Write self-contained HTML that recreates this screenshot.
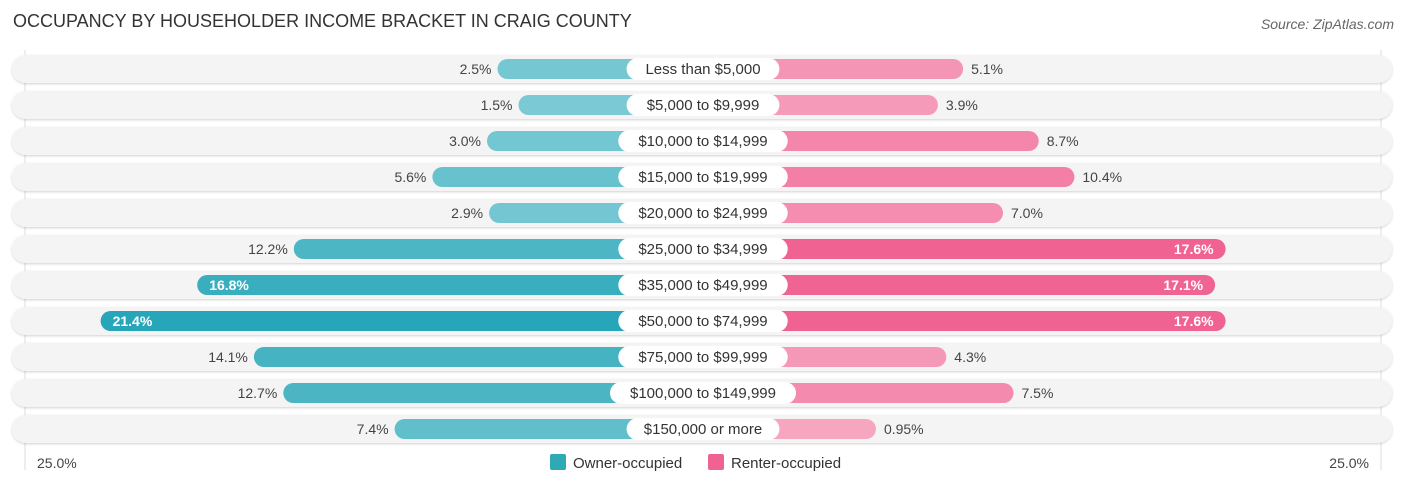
<!DOCTYPE html>
<html><head><meta charset="utf-8"><style>
body{margin:0;background:#fff;font-family:"Liberation Sans",sans-serif;}
#c{position:relative;width:1406px;height:487px;overflow:hidden;}
.t{position:absolute;left:13px;top:11px;font-size:18px;color:#333;}
.s{position:absolute;right:12px;top:16px;font-size:14px;color:#666;font-style:italic;}
</style></head><body>
<div id="c">
<div class="t">OCCUPANCY BY HOUSEHOLDER INCOME BRACKET IN CRAIG COUNTY</div>
<div class="s">Source: ZipAtlas.com</div>
<svg id="sv" width="1406" height="487" style="position:absolute;left:0;top:0"></svg>
</div>
<script>
const categories=["Less than $5,000","$5,000 to $9,999","$10,000 to $14,999","$15,000 to $19,999","$20,000 to $24,999","$25,000 to $34,999","$35,000 to $49,999","$50,000 to $74,999","$75,000 to $99,999","$100,000 to $149,999","$150,000 or more"];
const ownerValues=[2.5,1.5,3.0,5.6,2.9,12.2,16.8,21.4,14.1,12.7,7.4];
const renterValues=[5.1,3.9,8.7,10.4,7.0,17.6,17.1,17.6,4.3,7.5,0.95];
const ownerLabels=["2.5%","1.5%","3.0%","5.6%","2.9%","12.2%","16.8%","21.4%","14.1%","12.7%","7.4%"];
const renterLabels=["5.1%","3.9%","8.7%","10.4%","7.0%","17.6%","17.1%","17.6%","4.3%","7.5%","0.95%"];
const axisMax=25;
const NS="http://www.w3.org/2000/svg";
const sv=document.getElementById('sv');
const cx=703,off=153,pxPer=21.0,rowTop=69,rowStep=36;
function xs(v){return off+v*pxPer;}
function mix(a,b,t){return 'rgb('+a.map((x,i)=>Math.round(x+(b[i]-x)*t)).join(',')+')';}
function mk(tag,attrs,parent){const e=document.createElementNS(NS,tag);for(const k in attrs)e.setAttribute(k,attrs[k]);(parent||sv).appendChild(e);return e;}
const defs=mk('defs',{});
const f=mk('filter',{id:'sh',x:'-5%',y:'-30%',width:'110%',height:'160%'},defs);
mk('feDropShadow',{dx:0,dy:1,stdDeviation:1.2,'flood-color':'#000','flood-opacity':0.18},f);
mk('line',{x1:25,x2:25,y1:50,y2:470,stroke:'#ddd'});
mk('line',{x1:1381,x2:1381,y1:50,y2:470,stroke:'#ddd'});
categories.forEach((cat,i)=>{
  const y=rowTop+i*rowStep;
  const g=mk('g',{});
  
  
  const bg=mk('rect',{x:12,y:y-14,width:1380,height:28,rx:14,fill:'#f4f4f4',filter:'url(#sh)'},g);
  
  
  const ov=ownerValues[i],rv=renterValues[i];
  const ow=xs(ov),rw=xs(rv);
  const ob=mk('rect',{x:cx-ow,y:y-10,width:ow,height:20,rx:10,fill:mix([128,204,214],[38,166,184],Math.min(1,ov/21.4))},g);
  
  
  const rb=mk('rect',{x:cx,y:y-10,width:rw,height:20,rx:10,fill:mix([247,170,195],[240,98,146],Math.min(1,rv/17.6))},g);
  
  
  const oin=ov>15, rin=rv>15;
  const ot=mk('text',{x:oin?cx-ow+12:cx-ow-6,y:y+5,'font-size':14,'text-anchor':oin?'start':'end',fill:oin?'#fff':'#444','font-weight':oin?'bold':'normal'},g);
  ot.textContent=ownerLabels[i];
  
  
  const rt=mk('text',{x:rin?cx+rw-12:cx+rw+8,y:y+5,'font-size':14,'text-anchor':rin?'end':'start',fill:rin?'#fff':'#444','font-weight':rin?'bold':'normal'},g);
  rt.textContent=renterLabels[i];
  
  
  const w=cat.length*8.3+20;
  const pill=mk('rect',{x:cx-w/2,y:y-11,width:w,height:22,rx:11,fill:'#fff'},g);
  
  
  const ct=mk('text',{x:cx,y:y+5,'font-size':15,'text-anchor':'middle',fill:'#333'},g);
  ct.textContent=cat;
  
  
});
const al=mk('text',{x:37,y:468,'font-size':14,fill:'#444'});al.textContent=axisMax.toFixed(1)+'%';

const ar=mk('text',{x:1369,y:468,'font-size':14,fill:'#444','text-anchor':'end'});ar.textContent=axisMax.toFixed(1)+'%';

const l1=mk('rect',{x:550,y:454,width:16,height:16,rx:2,fill:'#2fa8b8'});

const lt1=mk('text',{x:573,y:468,'font-size':15,fill:'#333'});lt1.textContent='Owner-occupied';

const l2=mk('rect',{x:708,y:454,width:16,height:16,rx:2,fill:'#f06292'});

const lt2=mk('text',{x:731,y:468,'font-size':15,fill:'#333'});lt2.textContent='Renter-occupied';

</script>
</body></html>
